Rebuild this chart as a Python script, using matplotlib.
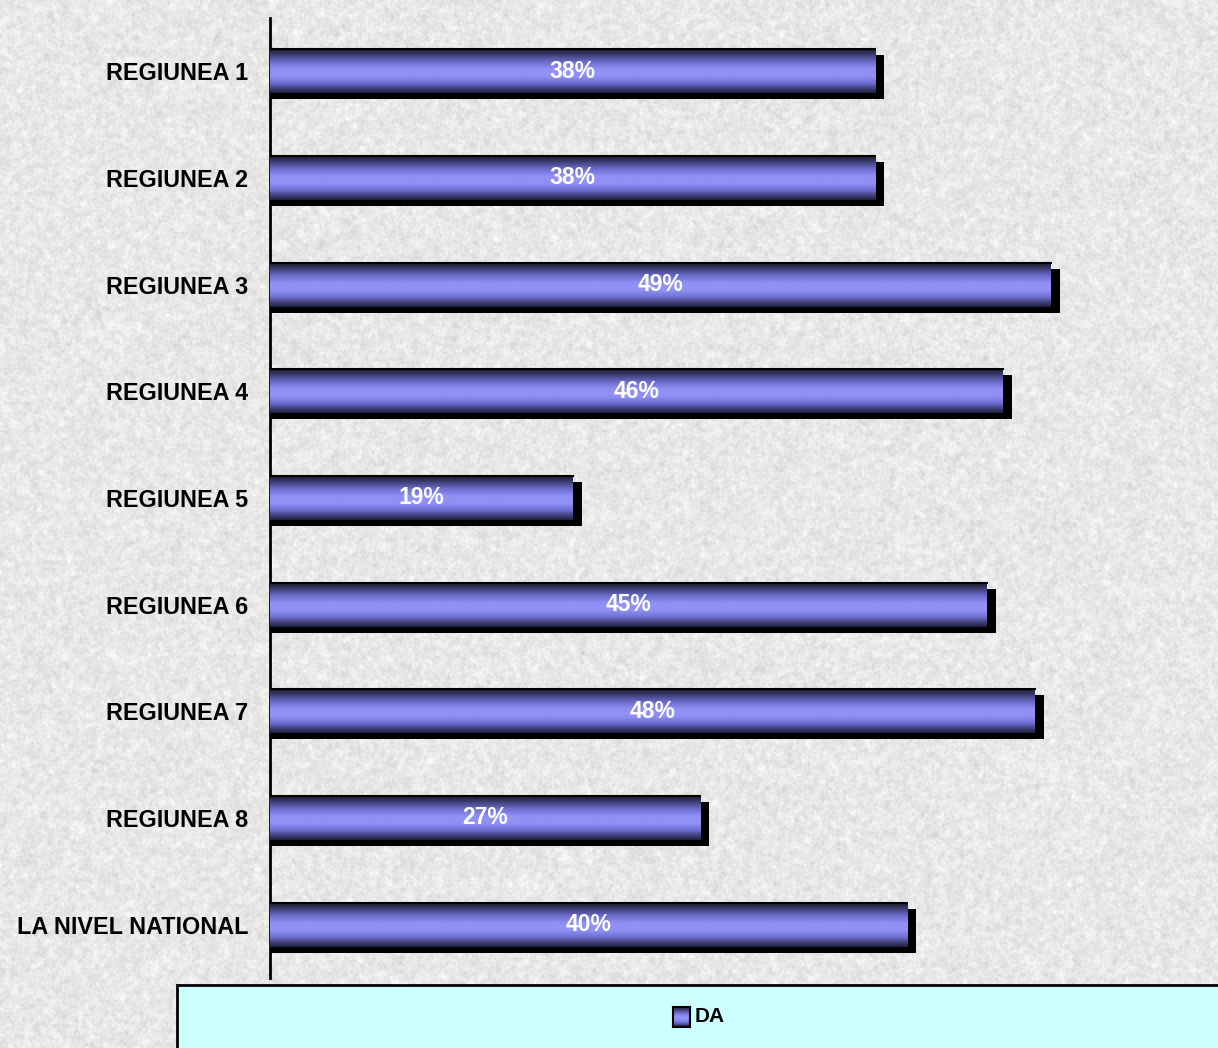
import numpy as np
import matplotlib
matplotlib.use("Agg")
import matplotlib.pyplot as plt
from matplotlib.patches import Rectangle
from matplotlib.colors import LinearSegmentedColormap

plt.rcParams['font.family'] = ['Liberation Sans', 'DejaVu Sans']

# Share of "DA" answers per region
categories = ["REGIUNEA 1", "REGIUNEA 2", "REGIUNEA 3", "REGIUNEA 4", "REGIUNEA 5",
              "REGIUNEA 6", "REGIUNEA 7", "REGIUNEA 8", "LA NIVEL NATIONAL"]
values = [38, 38, 49, 46, 19, 45, 48, 27, 40]
value_labels = ["38%", "38%", "49%", "46%", "19%", "45%", "48%", "27%", "40%"]
series_name = "DA"

W, H = 1218, 1048
fig = plt.figure(figsize=(W / 100, H / 100), dpi=100)

# granite-like paper background
rng = np.random.default_rng(7)
noise = rng.normal(0, 1, (H // 2, W // 2))
k = np.ones(3) / 3
smooth = np.apply_along_axis(lambda r: np.convolve(r, k, mode='same'), 1, noise)
smooth = np.apply_along_axis(lambda c: np.convolve(c, k, mode='same'), 0, smooth)
fine = rng.normal(0, 1, (H // 2, W // 2))
tex = 0.91 + 0.05 * smooth + 0.025 * fine
tex = np.clip(tex, 0.72, 1.0)
bg_ax = fig.add_axes([0, 0, 1, 1], zorder=-5)
bg_ax.imshow(np.dstack([tex, tex, tex * 0.995]), aspect='auto', interpolation='bilinear')
bg_ax.set_axis_off()

ax = fig.add_axes([270 / W, 1 - 978 / H, 1 - 270 / W, (978 - 18) / H])
ax.patch.set_alpha(0)

px_per_unit = 15.93
xmax = (W - 270) / px_per_unit

bar_h = 0.41
dx = 9 / px_per_unit
dy = 6 / 106.7

# vertical shading of the cylindrical bars
shade = LinearSegmentedColormap.from_list(
    "bar", [(0.0, "#1a1a30"), (0.12, "#3c3c70"), (0.28, "#6a6ac8"),
            (0.45, "#9090f6"), (0.62, "#9090f6"), (0.78, "#6e6ed0"),
            (0.9, "#40407a"), (1.0, "#202040")])
grad = shade(np.linspace(0, 1, 128))[:, None, :3]

y = np.arange(len(categories))
for yi, v, lab in zip(y, values, value_labels):
    # drop shadow
    ax.add_patch(Rectangle((0, yi - bar_h / 2 + dy), v + dx, bar_h,
                           facecolor='black', edgecolor='none', zorder=2))
    ax.barh(yi, v, height=bar_h, color='none', edgecolor='none', zorder=3)
    ax.imshow(grad, extent=(0, v, yi + bar_h / 2, yi - bar_h / 2), aspect='auto',
              interpolation='bilinear', zorder=3)
    ax.plot([0, v], [yi - bar_h / 2, yi - bar_h / 2], color='black', lw=1.5, zorder=4)
    ax.text(v / 2, yi, lab, ha='center', va='center', color='white',
            fontsize=16.5, fontweight='bold', zorder=5)

ax.set_xlim(0, xmax)
ax.set_ylim(len(categories) - 0.5, -0.5)
ax.set_yticks(y)
ax.set_yticklabels(categories, fontsize=16.8, fontweight='bold')
ax.tick_params(axis='y', length=0, pad=15.5)
ax.set_xticks([])
for s in ['top', 'right', 'bottom']:
    ax.spines[s].set_visible(False)
ax.spines['left'].set_linewidth(2)

# legend box
fig.patches.append(Rectangle((177 / W, -0.01), 1.0, (1048 - 985) / H + 0.01,
                             transform=fig.transFigure, facecolor='#ccffff',
                             edgecolor='black', lw=2, zorder=1))
lax = fig.add_axes([673 / W, 1 - 1027 / H, 17 / W, 20 / H], zorder=3)
lax.imshow(grad, aspect='auto', extent=(0, 1, 0, 1))
lax.set_xticks([]); lax.set_yticks([])
for s in lax.spines.values():
    s.set_linewidth(1.5)
fig.text(695 / W, 1 - 1016 / H, series_name, ha='left', va='center',
         fontsize=15, fontweight='bold', zorder=4)

fig.savefig("out.png", dpi=100)
